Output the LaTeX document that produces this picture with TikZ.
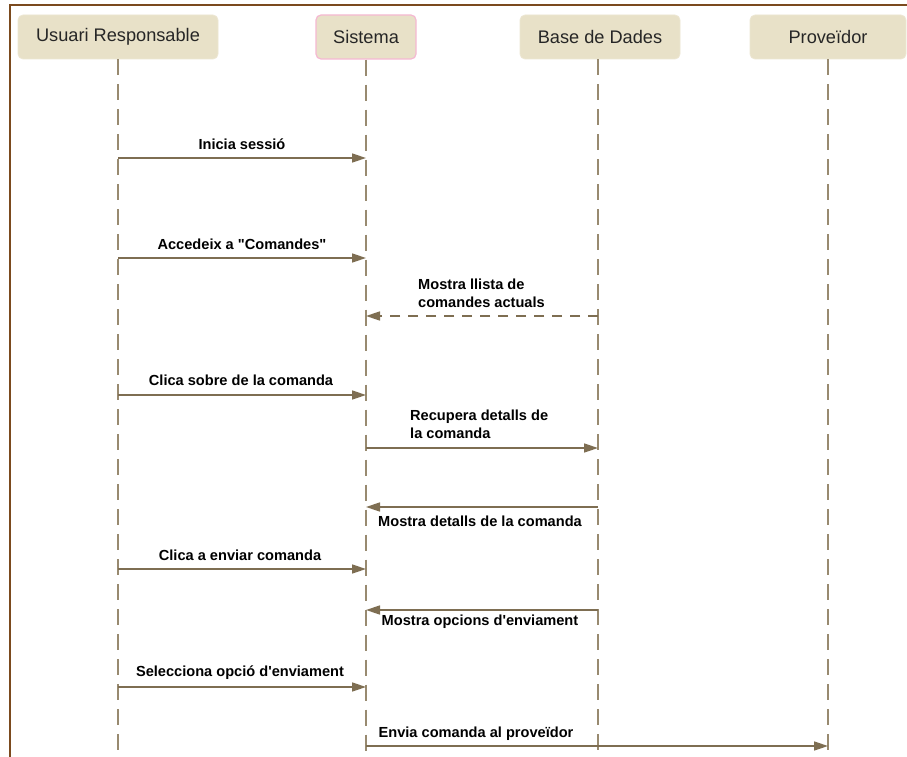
\documentclass[tikz,border=0pt]{standalone}
\usepackage{fontspec}
\setmainfont{Liberation Sans}
\usetikzlibrary{arrows.meta}
\definecolor{frame}{HTML}{7B4A1E}
\definecolor{headfill}{HTML}{E8E1C8}
\definecolor{pinkedge}{HTML}{F5B8D2}
\definecolor{msgline}{HTML}{7E6E52}
\definecolor{lifeline}{HTML}{988A70}
\tikzset{
  actor/.style={rounded corners=5pt, fill=headfill, draw=headfill!80!white, line width=0.8pt,
    minimum height=44pt, inner sep=0pt, font=\fontsize{18.2}{20}\selectfont, text=black!85},
  life/.style={draw=lifeline, line width=1.6pt, dash pattern=on 16pt off 9pt},
  msg/.style={draw=msgline, line width=1.6pt, -{Triangle[length=14pt,width=9pt]}},
  reply/.style={msg, dash pattern=on 10pt off 8pt},
  lbl/.style={font=\fontsize{14.6}{18}\selectfont\bfseries, text=black, inner sep=0pt},
  lblleft/.style={lbl, align=left, anchor=west}
}
\begin{document}
\begin{tikzpicture}[x=1pt,y=-1pt]
\useasboundingbox (0,0) rectangle (907,757);
\fill[white] (0,0) rectangle (907,757);
% outer frame
\draw[frame, line width=2pt] (10,757) -- (10,5) -- (907,5);

% participants
\node[actor, minimum width=200pt] (u) at (118,37) {Usuari Responsable};
\node[actor, minimum width=100pt, draw=pinkedge, line width=1.2pt] (s) at (366,37) {Sistema};
\node[actor, minimum width=160pt] (b) at (600,37) {Base de Dades};
\node[actor, minimum width=156pt] (p) at (828,37) {Proveïdor};

% lifeline ends
\coordinate (ue) at (118,757);
\coordinate (se) at (366,757);
\coordinate (be) at (598,757);
\coordinate (pe) at (828,757);
\draw[life] (u.south -| ue) -- (ue);
\draw[life] (s.south -| se) -- (se);
\draw[life] (b.south -| be) -- (be);
\draw[life] (p.south -| pe) -- (pe);

% message anchor points on the lifelines
\coordinate (u1) at (118,158); \coordinate (s1) at (366,158);
\coordinate (u2) at (118,258); \coordinate (s2) at (366,258);
\coordinate (b3) at (598,316); \coordinate (s3) at (366,316);
\coordinate (u4) at (118,395); \coordinate (s4) at (366,395);
\coordinate (s5) at (366,448); \coordinate (b5) at (598,448);
\coordinate (b6) at (598,507); \coordinate (s6) at (366,507);
\coordinate (u7) at (118,569); \coordinate (s7) at (366,569);
\coordinate (b8) at (598,610); \coordinate (s8) at (366,610);
\coordinate (u9) at (118,687); \coordinate (s9) at (366,687);
\coordinate (s10) at (366,746); \coordinate (p10) at (828,746);

% messages
\draw[msg] (u1) -- (s1);
\node[lbl] (l1) at (242,144) {Inicia sessió};

\draw[msg] (u2) -- (s2);
\node[lbl] (l2) at (242,244) {Accedeix a \textquotedbl Comandes\textquotedbl};

\draw[reply] (b3) -- (s3);
\node[lblleft] (l3) at (418,293) {Mostra llista de\\comandes actuals};

\draw[msg] (u4) -- (s4);
\node[lbl] (l4) at (241,380) {Clica sobre de la comanda};

\draw[msg] (s5) -- (b5);
\node[lblleft] (l5) at (410,424) {Recupera detalls de\\la comanda};

\draw[msg] (b6) -- (s6);
\node[lbl] (l6) at (480,521) {Mostra detalls de la comanda};

\draw[msg] (u7) -- (s7);
\node[lbl] (l7) at (240,555) {Clica a enviar comanda};

\draw[msg] (b8) -- (s8);
\node[lbl] (l8) at (480,622) {Mostra opcions d\textquotesingle enviament};

\draw[msg] (u9) -- (s9);
\node[lbl] (l9) at (240,673) {Selecciona opció d\textquotesingle enviament};

\draw[msg] (s10) -- (p10);
\node[lbl] (l10) at (476,734) {Envia comanda al proveïdor};
\end{tikzpicture}
\end{document}
